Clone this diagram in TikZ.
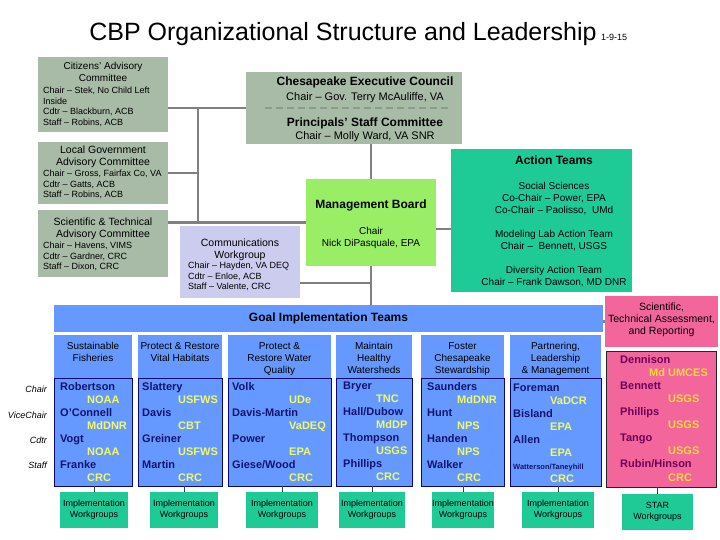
\documentclass[tikz,border=0pt]{standalone}
\usepackage{fontspec}
\setmainfont{Liberation Sans}
\usetikzlibrary{positioning}

\definecolor{beirat}{RGB}{168,187,166}
\definecolor{linie}{RGB}{128,128,128}
\definecolor{trenn}{RGB}{140,156,140}
\definecolor{mbgruen}{RGB}{153,238,102}
\definecolor{tuerkis}{RGB}{30,202,150}
\definecolor{lila}{RGB}{204,204,238}
\definecolor{gitblau}{RGB}{102,153,255}
\definecolor{dunkelblau}{RGB}{10,10,110}
\definecolor{namenblau}{RGB}{20,20,110}
\definecolor{gelb}{RGB}{240,250,100}
\definecolor{gold}{RGB}{255,215,60}
\definecolor{rosa}{RGB}{242,102,155}
\definecolor{lilaname}{RGB}{110,0,90}

\newcommand{\Aff}[3][gelb]{\hspace*{#2}\textcolor{#1}{#3}}

\begin{document}
\begin{tikzpicture}[x=1pt, y=-1pt,
        kasten/.style={anchor=north west, inner sep=0pt, outer sep=0pt},
        verb/.style={draw=linie, line width=2.5pt},
        duenn/.style={draw=black!75, line width=1pt},
        kopf/.style={inner sep=0pt, align=center, font=\fontsize{10.5}{12}\selectfont},
        liste/.style={inner sep=0pt, align=left, font=\fontsize{9}{10.6}\selectfont},
        fett/.style={inner sep=0pt, font=\fontsize{12}{14}\selectfont\bfseries},
        zeile/.style={inner sep=0pt, font=\fontsize{11}{13}\selectfont},
        leute/.style={inner sep=0pt, align=left, text=namenblau, font=\fontsize{11}{13}\selectfont\bfseries},
        gruppe/.style={kasten, fill=gitblau},
        mitglied/.style={kasten, fill=gitblau, draw=dunkelblau, line width=0.8pt},
        iwg/.style={kasten, fill=tuerkis, align=center, font=\fontsize{9}{11}\selectfont}]
        \useasboundingbox (0,0) rectangle (720,540);

        % Titel
        \node[anchor=base, inner sep=0pt, font=\fontsize{25}{30}\selectfont] (titel) at (343,41) {CBP Organizational Structure and Leadership};
        \node[anchor=base west, inner sep=0pt, font=\fontsize{9}{10}\selectfont] (datum) at ([xshift=4pt]titel.base east) {1-9-15};

        % Beiraete links
        \node[kasten, fill=beirat, minimum width=130pt, minimum height=75pt] (cac) at (38,57) {};
        \node[kopf, font=\fontsize{10}{12}\selectfont, below=5.4pt of cac.north] (cack) {Citizens' Advisory\\Committee};
        \node[liste, below right=29.9pt and 5pt of cac.north west] (cacl) {Chair -- Stek, No Child Left\\Inside\\Cdtr -- Blackburn, ACB\\Staff -- Robins, ACB};

        \node[kasten, fill=beirat, minimum width=130pt, minimum height=62pt] (lgac) at (38,142) {};
        \node[kopf, below=3.2pt of lgac.north] (lgack) {Local Government\\Advisory Committee};
        \node[liste, font=\fontsize{9}{10.5}\selectfont, below right=27.9pt and 5pt of lgac.north west] (lgacl) {Chair -- Gross, Fairfax Co, VA\\Cdtr -- Gatts, ACB\\Staff -- Robins, ACB};

        \node[kasten, fill=beirat, minimum width=130pt, minimum height=67pt] (stac) at (38,210) {};
        \node[kopf, below=7.2pt of stac.north] (stack) {Scientific \& Technical\\Advisory Committee};
        \node[liste, font=\fontsize{9}{10.5}\selectfont, below right=31.9pt and 5pt of stac.north west] (stacl) {Chair -- Havens, VIMS\\Cdtr -- Gardner, CRC\\Staff -- Dixon, CRC};

        % Executive Council / PSC
        \node[kasten, fill=beirat, minimum width=216pt, minimum height=72pt] (cec) at (246,72) {};
        \node[fett, below=4.7pt of cec.north, xshift=11pt] (cect) {Chesapeake Executive Council};
        \node[zeile, below=20pt of cec.north, xshift=11pt] (cecv) {Chair -- Gov. Terry McAuliffe, VA};
        \draw[draw=trenn, line width=2.5pt, dash pattern=on 7pt off 4pt] ([xshift=19pt]cec.west) -- ([xshift=-12pt]cec.east); % Trennlinie
        \node[fett, below=45.7pt of cec.north, xshift=11pt] (psct) {Principals' Staff Committee};
        \node[zeile, below=59pt of cec.north, xshift=11pt] (pscv) {Chair -- Molly Ward, VA SNR};

        % Management Board, Action Teams, Communications
        \node[kasten, fill=mbgruen, minimum width=130pt, minimum height=87pt] (mb) at (306,179) {};
        \node[fett, below=20.7pt of mb.north] (mbt) {Management Board};
        \node[kopf, font=\fontsize{10}{12}\selectfont, below=48.4pt of mb.north] (mbv) {Chair\\Nick DiPasquale, EPA};

        \node[kasten, fill=tuerkis, minimum width=181pt, minimum height=143pt] (aktion) at (451,149) {};
        \node[fett, below=6.7pt of aktion.north, xshift=12.5pt] (aktiont) {Action Teams};
        \node[kopf, font=\fontsize{10}{12}\selectfont, below=33.4pt of aktion.north, xshift=12.5pt] (aktionl) {Social Sciences\\Co-Chair -- Power, EPA\\Co-Chair -- Paolisso,\ \ UMd\\[12pt]Modeling Lab Action Team\\Chair -- \ Bennett, USGS\\[12pt]Diversity Action Team\\Chair -- Frank Dawson, MD DNR};

        \node[kasten, fill=lila, minimum width=120pt, minimum height=72pt] (komm) at (180,226) {};
        \node[kopf, below=12.2pt of komm.north] (kommk) {Communications\\Workgroup};
        \node[liste, font=\fontsize{9}{10.5}\selectfont, below right=35.9pt and 8pt of komm.north west] (komml) {Chair -- Hayden, VA DEQ\\Cdtr -- Enloe, ACB\\Staff -- Valente, CRC};

        % Goal Implementation Teams
        \node[gruppe, minimum width=549pt, minimum height=27pt, font=\fontsize{12}{14}\selectfont\bfseries] (git) at (54,305) {Goal Implementation Teams};

        \node[anchor=north east, inner sep=0pt, align=right, font=\fontsize{9}{25.3}\selectfont\itshape] (rollen) at (47,386) {Chair\\ViceChair\\Cdtr\\Staff};

        % Spalte 1
        \node[gruppe, minimum width=78pt, minimum height=43pt] (g1) at (54,335) {};
        \node[kopf, font=\fontsize{10}{12}\selectfont, below=7.4pt of g1.north] (g1t) {Sustainable\\Fisheries};
        \node[mitglied, minimum width=78pt, minimum height=108pt] (m1) at (54,378) {};
        \node[leute, below right=4pt and 6pt of m1.north west] (m1t) {Robertson\\\Aff{27pt}{NOAA}\\O'Connell\\\Aff{27pt}{MdDNR}\\Vogt\\\Aff{27pt}{NOAA}\\Franke\\\Aff{27pt}{CRC}};
        \node[iwg, minimum width=68pt, minimum height=36pt] (i1) at (60,492) {Implementation\\Workgroups};

        % Spalte 2
        \node[gruppe, minimum width=84pt, minimum height=43pt] (g2) at (138,335) {};
        \node[kopf, font=\fontsize{10}{12}\selectfont, below=7.4pt of g2.north] (g2t) {Protect \& Restore\\Vital Habitats};
        \node[mitglied, minimum width=84pt, minimum height=108pt] (m2) at (138,378) {};
        \node[leute, below right=4pt and 4pt of m2.north west] (m2t) {Slattery\\\Aff{36pt}{USFWS}\\Davis\\\Aff{36pt}{CBT}\\Greiner\\\Aff{36pt}{USFWS}\\Martin\\\Aff{36pt}{CRC}};
        \node[iwg, minimum width=68pt, minimum height=36pt] (i2) at (150,492) {Implementation\\Workgroups};

        % Spalte 3
        \node[gruppe, minimum width=103pt, minimum height=43pt] (g3) at (228,335) {};
        \node[kopf, font=\fontsize{10}{12}\selectfont, below=7.4pt of g3.north] (g3t) {Protect \&\\Restore Water\\Quality};
        \node[mitglied, minimum width=103pt, minimum height=108pt] (m3) at (228,378) {};
        \node[leute, below right=4pt and 4pt of m3.north west] (m3t) {Volk\\\Aff{57pt}{UDe}\\Davis-Martin\\\Aff{57pt}{VaDEQ}\\Power\\\Aff{57pt}{EPA}\\Giese/Wood\\\Aff{57pt}{CRC}};
        \node[iwg, minimum width=72pt, minimum height=36pt] (i3) at (246,492) {Implementation\\Workgroups};

        % Spalte 4
        \node[gruppe, minimum width=76pt, minimum height=43pt] (g4) at (336,335) {};
        \node[kopf, font=\fontsize{10}{12}\selectfont, below=7.4pt of g4.north] (g4t) {Maintain\\Healthy\\Watersheds};
        \node[mitglied, minimum width=76pt, minimum height=108pt] (m4) at (336,378) {};
        \node[leute, below right=4pt and 7pt of m4.north west] (m4t) {Bryer\\\Aff{33pt}{TNC}\\Hall/Dubow\\\Aff{33pt}{MdDP}\\Thompson\\\Aff{33pt}{USGS}\\Phillips\\\Aff{33pt}{CRC}};
        \node[iwg, minimum width=66pt, minimum height=36pt] (i4) at (339,492) {Implementation\\Workgroups};

        % Spalte 5
        \node[gruppe, minimum width=83pt, minimum height=43pt] (g5) at (421,335) {};
        \node[kopf, font=\fontsize{10}{12}\selectfont, below=7.4pt of g5.north] (g5t) {Foster\\Chesapeake\\Stewardship};
        \node[mitglied, minimum width=83pt, minimum height=108pt] (m5) at (421,378) {};
        \node[leute, below right=4pt and 6pt of m5.north west] (m5t) {Saunders\\\Aff{30pt}{MdDNR}\\Hunt\\\Aff{30pt}{NPS}\\Handen\\\Aff{30pt}{NPS}\\Walker\\\Aff{30pt}{CRC}};
        \node[iwg, minimum width=62pt, minimum height=36pt] (i5) at (432,492) {Implementation\\Workgroups};

        % Spalte 6
        \node[gruppe, minimum width=91pt, minimum height=43pt] (g6) at (510,335) {};
        \node[kopf, font=\fontsize{10}{12}\selectfont, below=7.4pt of g6.north] (g6t) {Partnering,\\Leadership\\\& Management};
        \node[mitglied, minimum width=91pt, minimum height=108pt] (m6) at (510,378) {};
        \node[leute, below right=6pt and 3pt of m6.north west] (m6t) {Foreman\\\Aff{37pt}{VaDCR}\\Bisland\\\Aff{37pt}{EPA}\\Allen\\\Aff{37pt}{EPA}\\{\fontsize{7.5}{13}\selectfont Watterson/Taneyhill}\\\Aff{37pt}{CRC}};
        \node[iwg, minimum width=72pt, minimum height=36pt] (i6) at (522,492) {Implementation\\Workgroups};

        % STAR
        \node[kasten, fill=rosa, minimum width=113pt, minimum height=51pt] (star) at (605,296) {};
        \node[kopf, below=6.2pt of star.north] (start) {Scientific,\\Technical Assessment,\\and Reporting};
        \node[kasten, fill=rosa, draw=black!85, line width=0.8pt, minimum width=110pt, minimum height=136pt] (starm) at (606,351) {};
        \node[leute, text=lilaname, font=\fontsize{11}{13.1}\selectfont\bfseries, below right=4pt and 14pt of starm.north west] (starml) {Dennison\\\Aff[gold]{29pt}{Md UMCES}\\Bennett\\\Aff[gold]{48pt}{USGS}\\Phillips\\\Aff[gold]{48pt}{USGS}\\Tango\\\Aff[gold]{48pt}{USGS}\\Rubin/Hinson\\\Aff[gold]{48pt}{CRC}};
        \node[iwg, minimum width=71pt, minimum height=36pt] (starw) at (622,494) {STAR\\Workgroups};

        % Verbindungen
        \coordinate (ast) at (198,108);
        \draw[verb] (cac.east |- cec.west) -- (cec.west);
        \draw[verb] (ast) -- (ast |- mb.west);
        \draw[verb] (lgac.east) -- (lgac.east -| ast);
        \draw[verb] (stac.east |- mb.west) -- (mb.west);
        \draw[verb] (mb.north) -- (mb.north |- cec.south);
        \draw[verb] ([yshift=-6.5pt]mb.east) -- ([yshift=-6.5pt]mb.east -| aktion.west);
        \draw[verb] (mb.south) -- (mb.south |- git.north);
        \draw[verb] ([yshift=-21pt]komm.east) -- ([yshift=-21pt]komm.east -| mb.south);
        \draw[verb] (git.east |- star.west) -- (star.west);
        \foreach \i in {1,...,6}
            \draw[duenn] (i\i.north) -- (i\i.north |- m\i.south);
        \draw[duenn] (starw.north) -- (starw.north |- starm.south);

    \end{tikzpicture}
\end{document}
